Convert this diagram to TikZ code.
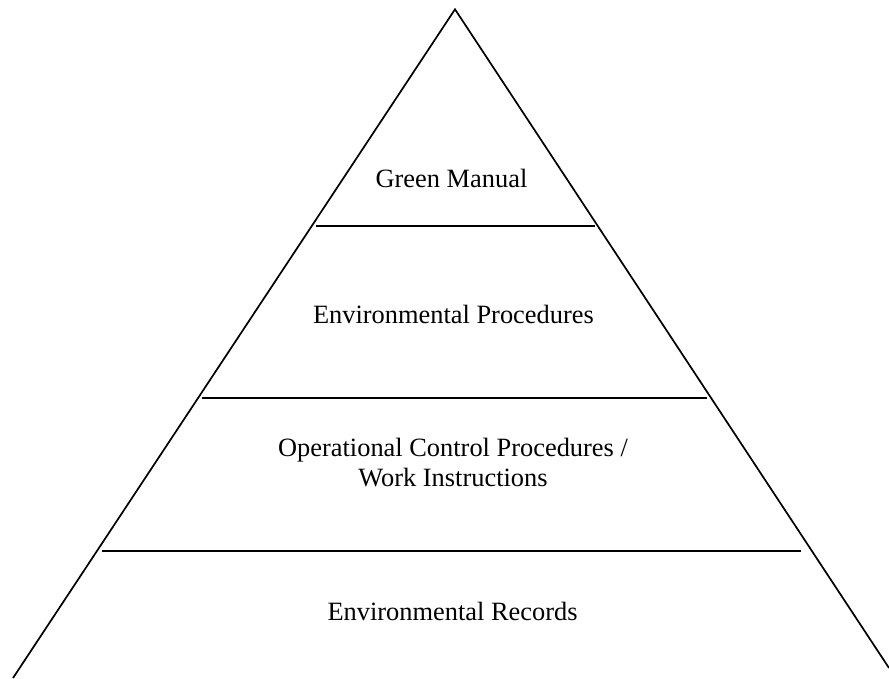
\documentclass[tikz,border=0pt]{standalone}
\usepackage{fontspec}
\setmainfont{Liberation Serif}
\begin{document}
\begin{tikzpicture}[x=1pt,y=-1pt,
  edge/.style={draw=black,line width=1.7pt},
  tier/.style={draw=black,line width=1.7pt},
  label/.style={font=\fontsize{26.4}{30}\selectfont,inner sep=0pt,anchor=base}]
\useasboundingbox (0,0) rectangle (889,678);
\coordinate (apex) at (455,9.3);
\coordinate (bl) at (13,678);
\coordinate (br) at (889,668);
\draw[edge] (bl) -- (apex) -- (br);
\coordinate (a1) at (316,225.7); \coordinate (b1) at (595,225.7);
\coordinate (a2) at (201.7,398.3); \coordinate (b2) at (706.7,398.3);
\coordinate (a3) at (102.3,551); \coordinate (b3) at (800.7,551);
\draw[tier] (a1) -- (b1);
\draw[tier] (a2) -- (b2);
\draw[tier] (a3) -- (b3);
\node[label] (gm) at (451.5,187.7) {Green Manual};
\node[label] (ep) at (453.4,323.3) {Environmental Procedures};
\node[label,align=center] (oc) at (453,486.7) {Operational Control Procedures /\\Work Instructions};
\node[label] (er) at (452.5,620) {Environmental Records};
\end{tikzpicture}
\end{document}
